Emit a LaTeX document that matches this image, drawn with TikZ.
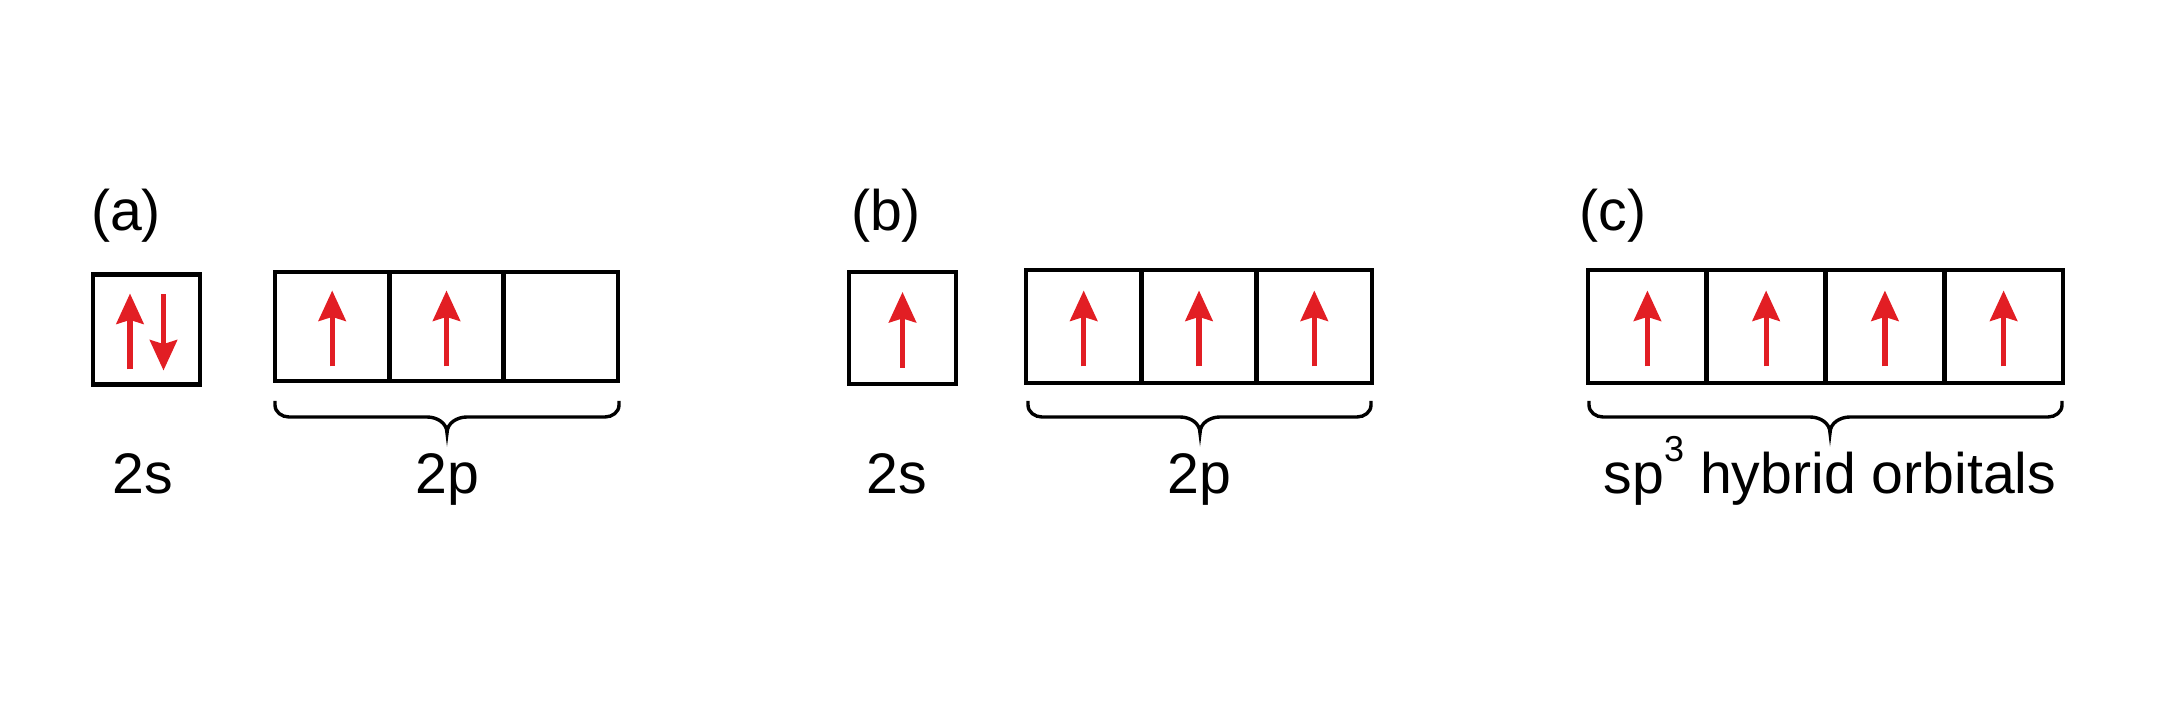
\documentclass[tikz,border=0pt]{standalone}
\usepackage{fontspec}
\setmainfont{Liberation Sans}
\usetikzlibrary{arrows.meta}
\definecolor{spinred}{RGB}{226,30,36}
\tikzset{
	orb/.style 2 args={draw,line width=1.15pt,inner sep=0pt,minimum width=#1,minimum height=#2},
	spin/.style={draw=spinred,line width=1.3pt,-{Stealth[width=6.8pt,length=7.6pt,inset=1pt]}},
	brace/.style={draw,line width=0.85pt},
	tag/.style={anchor=base,inner sep=0pt}
}
\newcommand{\spinup}[2]{\draw[spin] ([shift={(#2,40)}]#1.center) -- ++(0,-76);}
\newcommand{\spindown}[2]{\draw[spin] ([shift={(#2,-35)}]#1.center) -- ++(0,76);}
\newcommand{\orbbrace}[3]{%
	\draw[brace] (#1,401) -- (#1,405) to[out=-90,in=180] ++(14,12)
		-- ++(#2-#1-34,0) to[out=0,in=90] ++(20,16)
		to[out=90,in=180] ++(20,-16) -- ++(#3-#2-34,0)
		to[out=0,in=-90] ++(14,-12) -- ++(0,-4);}

\begin{document}
\begin{tikzpicture}[x=0.25pt,y=-0.25pt,font=\fontsize{14.3pt}{17pt}\selectfont]
	\useasboundingbox (0,0) rectangle (2170,725);

	\node [tag] (la) at (126,231) {(a)};
	\node [orb={26.75pt}{27.5pt}] (as) at (146.5,329.5) {};
	\node [orb={28.6pt}{27.3pt}] (ap1) at (332.2,326.5) {};
	\node [orb={28.6pt}{27.3pt}] (ap2) at (446.5,326.5) {};
	\node [orb={28.6pt}{27.3pt}] (ap3) at (560.8,326.5) {};
	\spinup{as}{-16.5}
	\spindown{as}{17}
	\spinup{ap1}{0}
	\spinup{ap2}{0}
	\orbbrace{275}{447}{619}
	\node [tag] (as-lbl) at (143,494) {2s};
	\node [tag] (ap-lbl) at (447,494) {2p};

	\node [tag] (lb) at (886,231) {(b)};
	\node [orb={26.75pt}{28pt}] (bs) at (902.5,328) {};
	\node [orb={28.8pt}{28.2pt}] (bp1) at (1083.7,326.5) {};
	\node [orb={28.8pt}{28.2pt}] (bp2) at (1199,326.5) {};
	\node [orb={28.8pt}{28.2pt}] (bp3) at (1314.3,326.5) {};
	\spinup{bs}{0}
	\spinup{bp1}{0}
	\spinup{bp2}{0}
	\spinup{bp3}{0}
	\orbbrace{1028}{1200}{1371}
	\node [tag] (bs-lbl) at (897,494) {2s};
	\node [tag] (bp-lbl) at (1199,494) {2p};

	\node [tag] (lc) at (1613,231) {(c)};
	\node [orb={29.7pt}{28.2pt}] (c1) at (1647.4,326.5) {};
	\node [orb={29.7pt}{28.2pt}] (c2) at (1766.1,326.5) {};
	\node [orb={29.7pt}{28.2pt}] (c3) at (1884.9,326.5) {};
	\node [orb={29.7pt}{28.2pt}] (c4) at (2003.6,326.5) {};
	\spinup{c1}{0}
	\spinup{c2}{0}
	\spinup{c3}{0}
	\spinup{c4}{0}
	\orbbrace{1589}{1830}{2062}
	\node [tag] (c-lbl) at (1830,494) {sp\raisebox{8pt}{\fontsize{9pt}{9pt}\selectfont 3} hybrid orbitals};
\end{tikzpicture}
\end{document}
